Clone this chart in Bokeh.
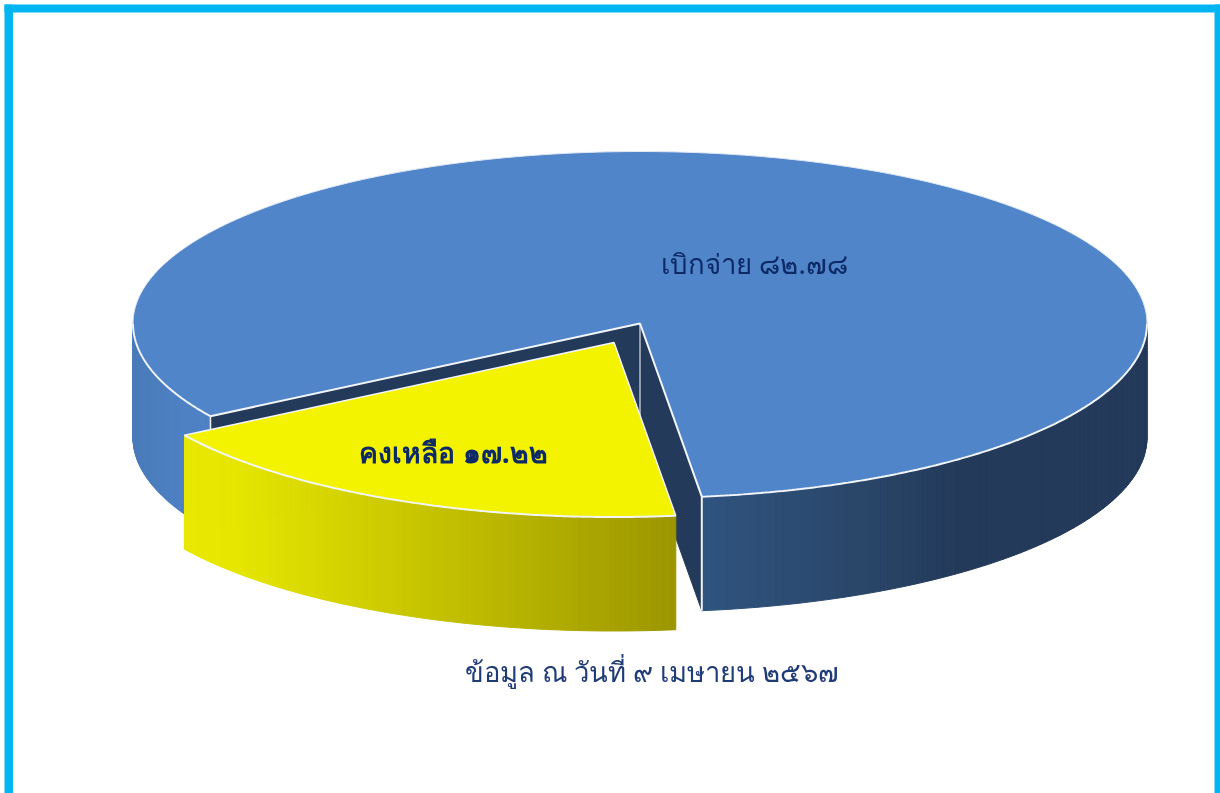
import numpy as np
from bokeh.plotting import figure
from bokeh.models import Range1d
from bokeh.core.properties import value
from bokeh.embed import file_html
from bokeh.resources import INLINE

categories = ["เบิกจ่าย", "คงเหลือ"]
percent_values = [82.78, 17.22]
percent_labels = ["๘๒.๗๘", "๑๗.๒๒"]
footnote = "ข้อมูล ณ วันที่ ๙ เมษายน ๒๕๖๗"

W, H = 1220, 793
CX, CY, RX, RY_BACK, RY_FRONT, DEPTH = 639.5, 323.0, 507.0, 172.0, 174.5, 114.0
OFFX, OFFY = -26.0, 19.0
PERSPECTIVE = 1.047  # the tilted view widens the front slice slightly
START = np.radians(83.0)
sweep = 2 * np.pi * percent_values[1] / sum(percent_values) * PERSPECTIVE
END = START + sweep

FONT = value("Noto Sans")
WHITE = "#f2f5fa"
BLUE_TOP, DARK, YEL_TOP = "#5085ca", "#233a5a", "#f3f300"

p = figure(width=W, height=H, x_range=Range1d(0, W), y_range=Range1d(H, 0),
           output_backend="svg", toolbar_location=None, min_border=0)
p.axis.visible = False
p.grid.visible = False
p.outline_line_color = None
p.styles = {"position": "fixed", "left": "0px", "top": "0px"}


def ell(t, ox=0.0, oy=0.0):
    s = np.sin(t)
    return CX + ox + RX * np.cos(t), CY + oy + np.where(s < 0, RY_BACK, RY_FRONT) * s


def lerp_color(stops, x):
    xs = [s[0] for s in stops]
    out = [np.interp(x, xs, [s[1][i] for s in stops]) for i in range(3)]
    return "#%02x%02x%02x" % tuple(int(round(v)) for v in out)


def wall(t0, t1, stops, ox=0.0, oy=0.0, n=90):
    ts = np.linspace(t0, t1, n + 1)
    xs, ys, cs = [], [], []
    for a, b in zip(ts[:-1], ts[1:]):
        xa, ya = ell(a, ox, oy)
        xb, yb = ell(b, ox, oy)
        xs.append([float(xa), float(xb), float(xb), float(xa)])
        ys.append([float(ya), float(yb), float(yb) + DEPTH, float(ya) + DEPTH])
        cs.append(lerp_color(stops, (xa + xb) / 2))
    p.patches(xs, ys, fill_color=cs, line_color=cs, line_width=1)


def arc(t0, t1, ox=0.0, oy=0.0, n=160):
    return ell(np.linspace(t0, t1, n), ox, oy)


# outer walls of the large slice
left_stops = [(133, (74, 124, 186)), (183, (78, 128, 196))]
right_stops = [(701, (47, 84, 128)), (860, (42, 70, 104)), (960, (35, 58, 90)), (1146, (35, 58, 90))]
wall(END, np.pi, left_stops)
wall(0, START, right_stops)

# inner cut faces of the large slice
x1, y1 = map(float, ell(START))
x2, y2 = map(float, ell(END))
p.patch([CX, x1, x1, CX], [CY, y1, y1 + DEPTH, CY + DEPTH], fill_color=DARK, line_color=DARK)
p.patch([CX, x2, x2, CX], [CY, y2, y2 + DEPTH, CY + DEPTH], fill_color=DARK, line_color=DARK)
p.line([CX, CX], [CY, CY + DEPTH], line_color="#b8c0cc", line_width=1.5)
p.line([x1, x1], [y1, y1 + DEPTH], line_color=WHITE, line_width=2)
p.line([x2, x2], [y2, y2 + DEPTH], line_color=WHITE, line_width=1.5)

# top of the large slice
ax, ay = arc(END, START + 2 * np.pi, n=400)
p.patch(np.r_[CX, ax], np.r_[CY, ay], fill_color=BLUE_TOP, line_color=None)
p.line(*arc(END, np.pi), line_color=WHITE, line_width=2)
p.line(*arc(np.pi, 2 * np.pi), line_color="#dfe8f4", line_width=1)
p.line(*arc(0, START), line_color=WHITE, line_width=2)
p.line([x2, CX, x1], [y2, CY, y1], line_color=WHITE, line_width=2)

# small slice, pulled out
yel_stops = [(183, (232, 232, 0)), (235, (230, 230, 0)), (674, (156, 150, 0))]
wall(START, END, yel_stops, OFFX, OFFY, n=110)
bx, by = arc(START, END, OFFX, OFFY)
p.patch(np.r_[CX + OFFX, bx], np.r_[CY + OFFY, by], fill_color=YEL_TOP, line_color=None)
p.line(bx, by, line_color=WHITE, line_width=2)
p.line([bx[-1], CX + OFFX, bx[0]], [by[-1], CY + OFFY, by[0]], line_color=WHITE, line_width=1.5)

# frame
FR = "#00b5f1"
p.quad(left=[4, 4, 1214], right=[12.5, 1220, 1220], top=[4, 4, 4], bottom=[H, 12, H],
       fill_color=FR, line_color=None)

# labels
p.text([754], [262], text=[f"{categories[0]} {percent_labels[0]}"], text_font=FONT,
       text_font_size="27.6px", text_color="#0d2a66", text_align="center", text_baseline="middle")
p.text([453], [451.5], text=[f"{categories[1]} {percent_labels[1]}"], text_font=FONT,
       text_font_size="28.2px", text_font_style="bold", text_color="#0d2a66",
       text_align="center", text_baseline="middle")
p.text([651.5], [671], text=[footnote], text_font=FONT, text_font_size="27.4px",
       text_color="#1f3b78", text_align="center", text_baseline="middle")

open("out.html", "w").write(file_html(p, INLINE))
